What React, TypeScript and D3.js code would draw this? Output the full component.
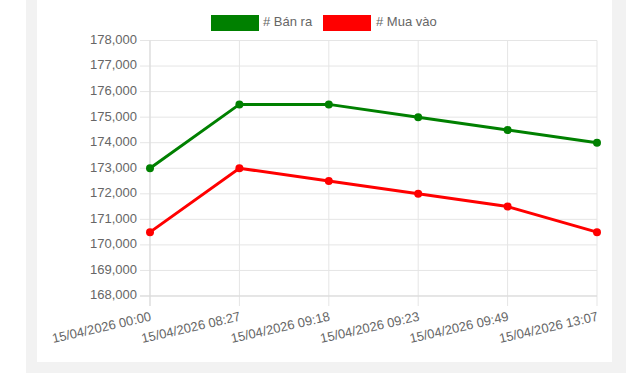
import React from "react";
import * as d3 from "d3";

const categories = [
  "15/04/2026 00:00",
  "15/04/2026 08:27",
  "15/04/2026 09:18",
  "15/04/2026 09:23",
  "15/04/2026 09:49",
  "15/04/2026 13:07",
];
const banRa = [173000, 175500, 175500, 175000, 174500, 174000];
const muaVao = [170500, 173000, 172500, 172000, 171500, 170500];
const yTicks = [168000, 169000, 170000, 171000, 172000, 173000, 174000, 175000, 176000, 177000, 178000];
const seriesNames = ["# Bán ra", "# Mua vào"];
const seriesColors = ["#008000", "#ff0000"];

const W = 635;
const H = 382;
const FONT = "'Liberation Sans', Arial, Helvetica, sans-serif";

export default function App() {
  const x = d3.scalePoint<string>().domain(categories).range([150, 597]);
  const y = d3.scaleLinear().domain([168000, 178000]).range([296, 40.5]);
  const fmt = d3.format(",");
  const line = d3
    .line<number>()
    .x((_, i) => x(categories[i]) as number)
    .y((d) => y(d));
  const series = [banRa, muaVao];

  return (
    <svg
      width={W}
      height={H}
      style={{ position: "absolute", left: 0, top: 0 }}
      fontFamily={FONT}
    >
      <rect x={0} y={0} width={W} height={H} fill="#ffffff" />
      <rect x={26} y={0} width={600} height={373} fill="#f2f2f2" />
      <rect x={37} y={0} width={575} height={362} fill="#ffffff" />

      {/* horizontal grid */}
      {yTicks.map((t) => (
        <g key={"y" + t}>
          <line x1={140} x2={597} y1={y(t)} y2={y(t)} stroke="#e5e5e5" strokeWidth={1} />
          <text
            x={137}
            y={y(t)}
            textAnchor="end"
            dominantBaseline="middle"
            fontSize={13}
            fill="#666"
          >
            {fmt(t)}
          </text>
        </g>
      ))}
      {/* vertical grid */}
      {categories.map((c) => (
        <g key={"x" + c}>
          <line
            x1={x(c)}
            x2={x(c)}
            y1={40.5}
            y2={306}
            stroke="#e5e5e5"
            strokeWidth={1}
          />
          <text
            transform={`translate(${(x(c) as number) + 1},317) rotate(-13)`}
            textAnchor="end"
            dominantBaseline="middle"
            fontSize={13}
            fill="#666"
          >
            {c}
          </text>
        </g>
      ))}
      {/* axis lines */}
      <line x1={150} x2={150} y1={40.5} y2={306} stroke="#d9d9d9" />
      <line x1={140} x2={597} y1={296} y2={296} stroke="#d9d9d9" />

      {series.map((s, si) => (
        <g key={"s" + si}>
          <path d={line(s) || ""} fill="none" stroke={seriesColors[si]} strokeWidth={3} />
          {s.map((v, i) => (
            <circle
              key={i}
              cx={x(categories[i])}
              cy={y(v)}
              r={4}
              fill={seriesColors[si]}
            />
          ))}
        </g>
      ))}

      {/* legend */}
      <g>
        <rect x={211} y={15} width={48} height={16} fill={seriesColors[0]} />
        <text x={263} y={23} dominantBaseline="middle" fontSize={13} fill="#666">
          {seriesNames[0]}
        </text>
        <rect x={323} y={15} width={48} height={16} fill={seriesColors[1]} />
        <text x={376} y={23} dominantBaseline="middle" fontSize={13} fill="#666">
          {seriesNames[1]}
        </text>
      </g>
    </svg>
  );
}
